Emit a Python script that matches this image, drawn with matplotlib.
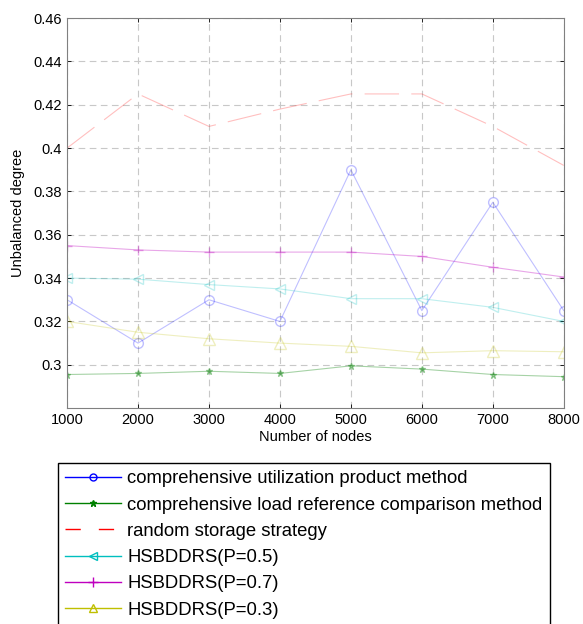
import matplotlib
matplotlib.use("Agg")
import matplotlib.pyplot as plt
from matplotlib.lines import Line2D
from matplotlib.ticker import FuncFormatter

plt.rcParams['font.family'] = ['Liberation Sans', 'DejaVu Sans']

# data
nodes = [1000, 2000, 3000, 4000, 5000, 6000, 7000, 8000]
util_product = [0.330, 0.310, 0.330, 0.320, 0.390, 0.325, 0.375, 0.325]
load_ref = [0.2955, 0.296, 0.297, 0.296, 0.2995, 0.298, 0.2955, 0.2945]
random_storage = [0.400, 0.425, 0.410, 0.418, 0.425, 0.425, 0.410, 0.392]
hsb_05 = [0.340, 0.3395, 0.337, 0.335, 0.3305, 0.3305, 0.3265, 0.320]
hsb_07 = [0.355, 0.353, 0.352, 0.352, 0.352, 0.350, 0.345, 0.3405]
hsb_03 = [0.320, 0.315, 0.312, 0.310, 0.3085, 0.3055, 0.3065, 0.306]

labels = ["comprehensive utilization product method",
          "comprehensive load reference comparison method",
          "random storage strategy",
          "HSBDDRS(P=0.5)",
          "HSBDDRS(P=0.7)",
          "HSBDDRS(P=0.3)"]

fig = plt.figure(figsize=(5.83, 6.24), dpi=100)
ax = fig.add_axes([0.115, 0.346, 0.852, 0.625])

a = 0.25
ax.plot(nodes, util_product, color='blue', marker='o', ms=7, mfc='none', lw=0.8, alpha=a)
ax.plot(nodes, load_ref, color='green', marker='*', ms=5, lw=0.8, alpha=0.35)
ln, = ax.plot(nodes, random_storage, color='red', lw=0.8, alpha=a)
ln.set_dashes([31, 11])
ax.plot(nodes, hsb_05, color='c', marker='<', ms=7, mfc='none', lw=0.8, alpha=a)
ax.plot(nodes, hsb_07, color='m', marker='+', ms=7, lw=0.8, alpha=0.35)
ax.plot(nodes, hsb_03, color='y', marker='^', ms=8, mfc='none', lw=0.8, alpha=a)

ax.set_xlim(1000, 8000)
ax.set_ylim(0.28, 0.46)
ax.set_xticks(nodes)
ax.set_yticks([0.30, 0.32, 0.34, 0.36, 0.38, 0.40, 0.42, 0.44, 0.46])
ax.yaxis.set_major_formatter(FuncFormatter(lambda v, p: '%g' % round(v, 2)))
ax.tick_params(direction='in', length=3, top=True, right=True, labelsize=10.5, width=0.6)
ax.grid(True, color='#c8c8c8', linestyle=(0, (6, 4)), lw=0.8)
for s in ax.spines.values():
    s.set_color('#808080')
    s.set_linewidth(0.8)

ax.set_xlabel("Number of nodes", fontsize=10.5, labelpad=2)
ax.set_ylabel("Unbalanced degree", fontsize=10.5, labelpad=6)

handles = [
    Line2D([], [], color='blue', marker='o', mfc='none', ms=5, lw=1),
    Line2D([], [], color='green', marker='*', ms=5, lw=1),
    Line2D([], [], color='red', lw=1, dashes=[11, 13]),
    Line2D([], [], color='c', marker='<', mfc='none', ms=6, lw=1),
    Line2D([], [], color='m', marker='+', ms=7, lw=1),
    Line2D([], [], color='y', marker='^', mfc='none', ms=6, lw=1),
]
leg = fig.legend(handles, labels, loc='upper left', bbox_to_anchor=(58 / 583, 1 - 463 / 624),
                 fontsize=13.3, handlelength=3.0, handletextpad=0.35, labelspacing=0.5,
                 borderpad=0.4, borderaxespad=0, fancybox=False, framealpha=1,
                 edgecolor='black', markerscale=1)
leg.get_frame().set_linewidth(1.0)

plt.savefig("out.png", dpi=100)
